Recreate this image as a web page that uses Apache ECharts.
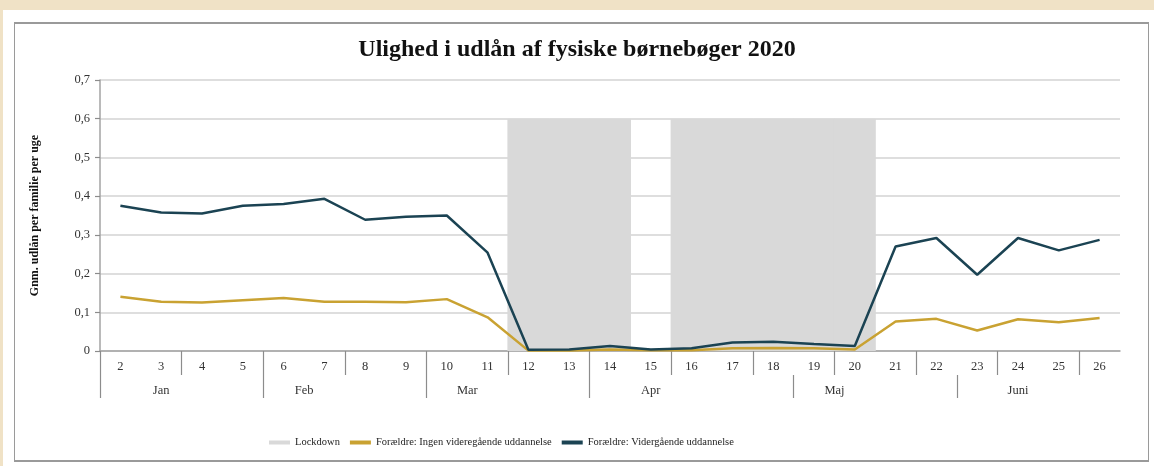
<!DOCTYPE html>
<html>
<head>
<meta charset="utf-8">
<title>Ulighed i udlån af fysiske børnebøger 2020</title>
<script src="https://cdn.jsdelivr.net/npm/echarts@6/dist/echarts.min.js"></script>
<style>
  html, body { margin: 0; padding: 0; background: #fff; }
  #page { position: relative; width: 1154px; height: 466px; background: #fff; overflow: hidden; }
  #strip-top { position: absolute; left: 0; top: 0; width: 1154px; height: 10px; background: #f0e2c6; }
  #strip-left { position: absolute; left: 0; top: 0; width: 3px; height: 466px; background: #f0e2c6; }
  #frame { position: absolute; left: 14px; top: 22px; width: 1133px; height: 436px; border: 1px solid #9a9a9a; border-top-width: 2px; border-bottom-width: 2px; }
  #container { position: absolute; left: 0; top: 0; width: 1154px; height: 466px; }
</style>
</head>
<body>
<div id="page">
  <div id="strip-top"></div>
  <div id="strip-left"></div>
  <div id="frame"></div>
  <div id="container"></div>
</div>
<script>
// uger (kategorier)
var weeks = ['2', '3', '4', '5', '6', '7', '8', '9', '10', '11', '12', '13', '14',
             '15', '16', '17', '18', '19', '20', '21', '22', '23', '24', '25', '26'];
// måneder: første uge-index, label-index og om label sidder på grænsen mellem to uger
var monthNames = ['Jan', 'Feb', 'Mar', 'Apr', 'Maj', 'Juni'];
var monthStart = [0, 4, 8, 12, 17, 21];
var monthLabelIdx = [1, 4, 8, 13, 17, 22];
var monthLabelShift = [false, true, true, false, true, false];

// lockdown-perioder (uge 12-14 og 16-20)
var lockdown = [null, null, null, null, null, null, null, null, null, null,
                0.6, 0.6, 0.6, null, 0.6, 0.6, 0.6, 0.6, 0.6,
                null, null, null, null, null, null];
// Forældre: Ingen videregående uddannelse
var ingen = [0.140, 0.127, 0.125, 0.131, 0.137, 0.127, 0.127, 0.126, 0.134, 0.087,
             0.001, 0.001, 0.004, 0.002, 0.002, 0.007, 0.008, 0.007, 0.004,
             0.076, 0.083, 0.053, 0.082, 0.074, 0.085];
// Forældre: Vidergående uddannelse
var videre = [0.375, 0.358, 0.355, 0.375, 0.380, 0.393, 0.339, 0.347, 0.350, 0.254,
              0.003, 0.004, 0.013, 0.004, 0.007, 0.022, 0.024, 0.018, 0.013,
              0.270, 0.292, 0.197, 0.292, 0.260, 0.287];

// hjælpeakse: kanterne mellem ugerne (én mere end antal uger)
var weekEdges = weeks.concat(['27']);

var serif = '"Liberation Serif", "DejaVu Serif", serif';
var tickStyle = { color: '#8c8c8c', width: 1.2 };
var dom = document.getElementById('container');
var myChart = echarts.init(dom, null, { renderer: 'canvas' });

var option = {
    backgroundColor: 'transparent',
    animation: false,
    title: {
        text: 'Ulighed i udlån af fysiske børnebøger 2020',
        left: 'center',
        top: 33,
        textStyle: { fontFamily: serif, fontSize: 24, fontWeight: 'bold', color: '#111' }
    },
    legend: {
        left: 264,
        top: 432,
        itemGap: 10,
        itemWidth: 21,
        itemHeight: 4,
        textStyle: { fontFamily: serif, fontSize: 10.5, color: '#222' },
        data: [
            { name: 'Lockdown', icon: 'rect' },
            { name: 'Forældre: Ingen videregående uddannelse', icon: 'rect' },
            { name: 'Forældre: Vidergående uddannelse', icon: 'rect' }
        ]
    },
    grid: { left: 100, right: 34, top: 80, bottom: 115 },
    xAxis: [{
        // ugenumre
        type: 'category',
        data: weeks,
        position: 'bottom',
        axisLine: { show: true, lineStyle: { color: '#a3a3a3', width: 1.5 } },
        axisTick: { show: false },
        axisLabel: { interval: 0, margin: 9, fontFamily: serif, fontSize: 12.5, color: '#333' }
    }, {
        // streger i uge-rækken (hver anden kant)
        type: 'category',
        data: weekEdges,
        boundaryGap: false,
        position: 'bottom',
        axisLine: { show: false },
        axisLabel: { show: false },
        axisTick: {
            show: true,
            interval: function (idx) { return idx % 2 === 0 && idx < weeks.length; },
            length: 24,
            lineStyle: tickStyle
        }
    }, {
        // streger i måneds-rækken
        type: 'category',
        data: weekEdges,
        boundaryGap: false,
        position: 'bottom',
        offset: 24,
        axisLine: { show: false },
        axisLabel: { show: false },
        axisTick: {
            show: true,
            interval: function (idx) { return monthStart.indexOf(idx) >= 0; },
            length: 23,
            lineStyle: tickStyle
        }
    }, {
        // månedsnavne
        type: 'category',
        data: weeks,
        position: 'bottom',
        offset: 24,
        axisLine: { show: false },
        axisTick: { show: false },
        axisLabel: {
            margin: 9,
            interval: function (idx) { return monthLabelIdx.indexOf(idx) >= 0; },
            formatter: function (val, idx) {
                var m = monthLabelIdx.indexOf(idx);
                if (m < 0) return '';
                return monthLabelShift[m] ? '{s|' + monthNames[m] + '}' : '{n|' + monthNames[m] + '}';
            },
            rich: {
                n: { fontFamily: serif, fontSize: 12.5, color: '#333' },
                s: { fontFamily: serif, fontSize: 12.5, color: '#333', padding: [0, 0, 0, 41] }
            }
        }
    }],
    yAxis: {
        type: 'value',
        min: 0,
        max: 0.7,
        interval: 0.1,
        name: 'Gnm. udlån per familie per uge',
        nameLocation: 'middle',
        nameRotate: 90,
        nameGap: 59,
        nameTextStyle: { fontFamily: serif, fontSize: 12, fontWeight: 'bold', color: '#111' },
        axisLine: { show: true, lineStyle: { color: '#a3a3a3', width: 1.5 } },
        axisTick: { show: true, inside: false, length: 5, lineStyle: tickStyle },
        axisLabel: {
            margin: 10,
            fontFamily: serif, fontSize: 12.5, color: '#333',
            formatter: function (v) { return String(Math.round(v * 10) / 10).replace('.', ','); }
        },
        splitLine: { lineStyle: { color: '#d3d3d3', width: 1.5 } }
    },
    series: [{
        name: 'Lockdown',
        type: 'bar',
        xAxisIndex: 0,
        data: lockdown,
        barWidth: 42,
        barCategoryGap: 0,
        itemStyle: { color: '#d9d9d9' },
        z: 1
    }, {
        name: 'Forældre: Ingen videregående uddannelse',
        type: 'line',
        xAxisIndex: 0,
        data: ingen,
        symbol: 'none',
        lineStyle: { color: '#c9a232', width: 2.5 },
        itemStyle: { color: '#c9a232' },
        z: 3
    }, {
        name: 'Forældre: Vidergående uddannelse',
        type: 'line',
        xAxisIndex: 0,
        data: videre,
        symbol: 'none',
        lineStyle: { color: '#1b4353', width: 2.5 },
        itemStyle: { color: '#1b4353' },
        z: 4
    }]
};

if (option && typeof option === 'object') {
    myChart.setOption(option, false);
}
</script>
</body>
</html>
